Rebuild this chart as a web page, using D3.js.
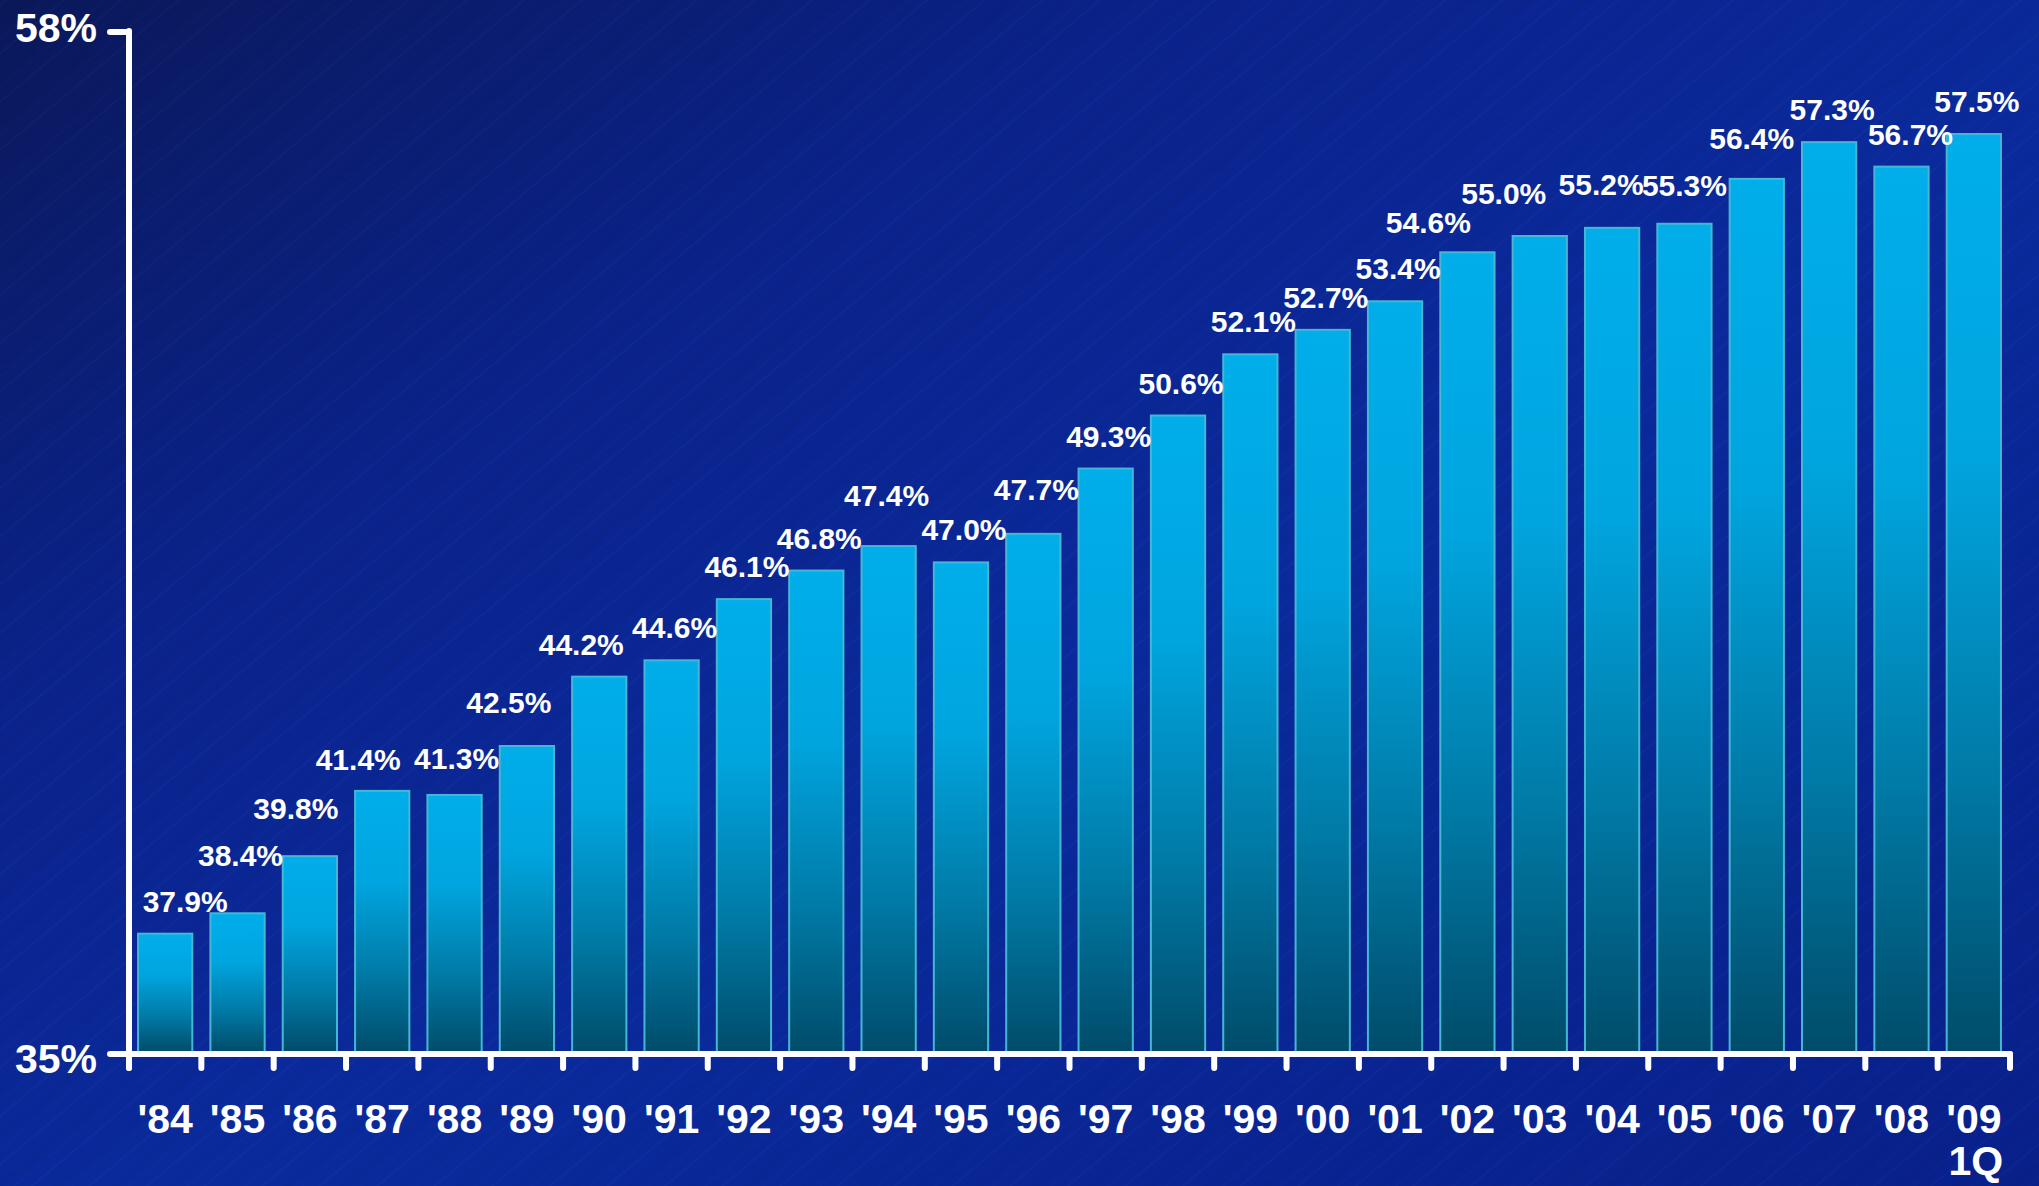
<!DOCTYPE html>
<html>
<head>
<meta charset="utf-8">
<script src="https://cdn.jsdelivr.net/npm/d3@7"></script>
<style>
  html, body { margin: 0; padding: 0; background: #08238c; overflow: hidden; }
  svg { display: block; font-family: "Liberation Sans", Arial, sans-serif; font-weight: bold; }
</style>
</head>
<body>
<svg id="chart"></svg>
<script>
// chart data
var categories = ["'84", "'85", "'86", "'87", "'88", "'89", "'90", "'91", "'92", "'93", "'94", "'95", "'96",
                  "'97", "'98", "'99", "'00", "'01", "'02", "'03", "'04", "'05", "'06", "'07", "'08", "'09"];
var subLabels = { "'09": "1Q" };
var shares = [37.9, 38.4, 39.8, 41.4, 41.3, 42.5, 44.2, 44.6, 46.1, 46.8, 47.4, 47.0, 47.7,
              49.3, 50.6, 52.1, 52.7, 53.4, 54.6, 55.0, 55.2, 55.3, 56.4, 57.3, 56.7, 57.5];
var yDomain = [35, 60];
var yTickLabels = ["35%", "58%"];

// hand placed labels in the original slide (pixel nudges)
var labelNudge = {
    "'84": [17, 0], "'85": [0, -25], "'86": [-17, -15], "'87": [-27, 1], "'88": [-1, -4],
    "'89": [-21, -11], "'90": [-21, 0], "'94": [-5, -18], "'96": [0, -12],
    "'02": [-42, 3], "'03": [-39, -10], "'04": [-14, -11], "'05": [-3, -6], "'06": [-8, -8], "'08": [6, 0]
};

var width = 2039,
    height = 1186,
    axisY = 1054,
    axisX = 129,
    white = '#ffffff';

var svg = d3.select('#chart')
    .attr('width', width)
    .attr('height', height);

var defs = svg.append('defs');

//background
var bg = defs.append('linearGradient')
    .attr('id', 'bgGrad')
    .attr('x1', 0).attr('y1', 0).attr('x2', 1).attr('y2', 1);
[[0, '#0a185a'], [0.3, '#0a238c'], [0.55, '#0a2a9c'], [1, '#08208a']].forEach(function(s) {
    bg.append('stop').attr('offset', s[0]).attr('stop-color', s[1]);
});

var streaks = defs.append('pattern')
    .attr('id', 'streaks')
    .attr('patternUnits', 'userSpaceOnUse')
    .attr('width', 37).attr('height', 400)
    .attr('patternTransform', 'rotate(50)');
streaks.append('rect').attr('x', 3).attr('width', 2).attr('height', 400)
    .attr('fill', white).attr('opacity', 0.018);
streaks.append('rect').attr('x', 17).attr('width', 6).attr('height', 400)
    .attr('fill', '#000030').attr('opacity', 0.03);
streaks.append('rect').attr('x', 29).attr('width', 1.5).attr('height', 400)
    .attr('fill', white).attr('opacity', 0.012);

var barGrad = defs.append('linearGradient')
    .attr('id', 'barGrad')
    .attr('x1', 0).attr('y1', 0).attr('x2', 0).attr('y2', 1);
[[0, '#00aeea'], [0.35, '#00a5df'], [0.7, '#007aa6'], [1, '#004c6a']].forEach(function(s) {
    barGrad.append('stop').attr('offset', s[0]).attr('stop-color', s[1]);
});

svg.append('rect').attr('width', width).attr('height', height).attr('fill', 'url(#bgGrad)');
svg.append('rect').attr('width', width).attr('height', height).attr('fill', 'url(#streaks)');

//scales
var x = d3.scaleBand()
    .domain(categories)
    .range([axisX, 2010])
    .paddingInner(0.25)
    .paddingOuter(0.125);

var y = d3.scaleLinear()
    .domain(yDomain)
    .range([1052, 32]);

var data = categories.map(function(c, i) {
    return { cat: c, value: shares[i] };
});

//bars
svg.append('g').selectAll('rect')
    .data(data)
    .enter()
    .append('rect')
    .attr('x', function(d) { return x(d.cat); })
    .attr('y', function(d) { return y(d.value); })
    .attr('width', x.bandwidth())
    .attr('height', function(d) { return y(yDomain[0]) - y(d.value); })
    .attr('fill', 'url(#barGrad)')
    .attr('stroke', '#46b6d4')
    .attr('stroke-width', 2);

//axes
var axes = svg.append('g')
    .attr('stroke', white)
    .attr('stroke-width', 6)
    .attr('stroke-linecap', 'round');

axes.append('line')
    .attr('x1', axisX).attr('x2', axisX)
    .attr('y1', y(yDomain[1]) - 1).attr('y2', axisY + 14);

axes.append('line')
    .attr('x1', 110).attr('x2', x.range()[1])
    .attr('y1', axisY).attr('y2', axisY);

axes.append('line')
    .attr('x1', 110).attr('x2', axisX)
    .attr('y1', y(yDomain[1])).attr('y2', y(yDomain[1]));

axes.selectAll('line.tick')
    .data(d3.range(categories.length + 1))
    .enter()
    .append('line')
    .attr('class', 'tick')
    .attr('x1', function(i) { return x.range()[0] + i * x.step(); })
    .attr('x2', function(i) { return x.range()[0] + i * x.step(); })
    .attr('y1', axisY)
    .attr('y2', axisY + 14);

//y labels
svg.append('g').selectAll('text')
    .data(yDomain)
    .enter()
    .append('text')
    .attr('x', 97)
    .attr('y', function(d, i) { return y(d) + (i == 0 ? 21 : 10); })
    .attr('text-anchor', 'end')
    .attr('font-size', 41)
    .attr('fill', white)
    .text(function(d, i) { return yTickLabels[i]; });

//category labels
svg.append('g').selectAll('text')
    .data(categories)
    .enter()
    .append('text')
    .attr('x', function(d) { return x(d) + x.bandwidth() / 2; })
    .attr('y', 1133)
    .attr('text-anchor', 'middle')
    .attr('font-size', 41)
    .attr('fill', white)
    .text(function(d) { return d; });

svg.append('g').selectAll('text')
    .data(categories.filter(function(c) { return subLabels[c]; }))
    .enter()
    .append('text')
    .attr('x', function(d) { return x(d) + x.bandwidth() / 2 + 2; })
    .attr('y', 1175)
    .attr('text-anchor', 'middle')
    .attr('font-size', 41)
    .attr('fill', white)
    .text(function(d) { return subLabels[d]; });

//value labels
var fmt = d3.format('.1f');
svg.append('g').selectAll('text')
    .data(data)
    .enter()
    .append('text')
    .attr('x', function(d) {
        var n = labelNudge[d.cat] || [0, 0];
        return x(d.cat) + x.bandwidth() / 2 + 3 + n[0];
    })
    .attr('y', function(d) {
        var n = labelNudge[d.cat] || [0, 0];
        return y(d.value) - 22 + n[1];
    })
    .attr('text-anchor', 'middle')
    .attr('font-size', 30)
    .attr('fill', white)
    .text(function(d) { return fmt(d.value) + '%'; });
</script>
</body>
</html>
